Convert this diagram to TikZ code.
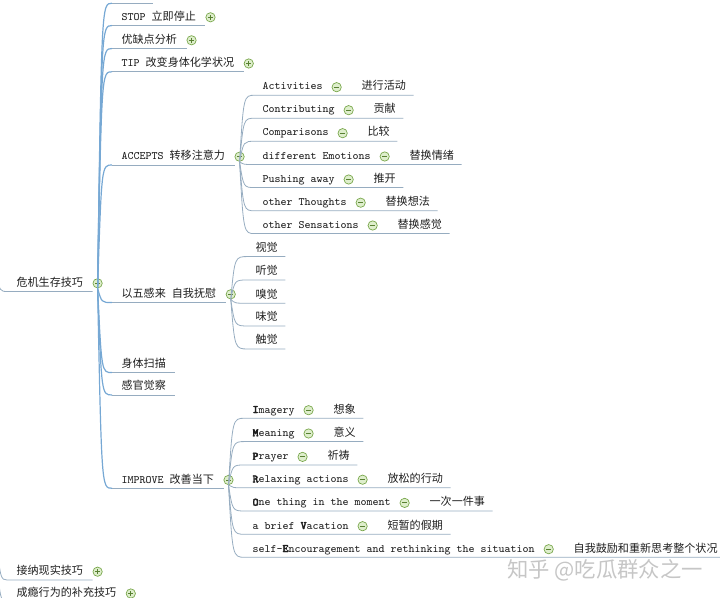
\documentclass[tikz,border=0pt]{standalone}
\usepackage{fontspec}
\newfontfamily\zhfont{Noto Sans CJK SC}
\newfontfamily\ttbold{lmmonolt10-bold.otf}[FakeBold=3]
\usetikzlibrary{positioning}
\usetikzlibrary{calc}
\definecolor{textdark}{RGB}{30,30,30}
\definecolor{linegray}{RGB}{150,172,192}
\definecolor{trunkblue}{RGB}{118,168,212}
\definecolor{iconborder}{RGB}{118,165,72}
\definecolor{iconfill}{RGB}{222,238,204}
\definecolor{iconmark}{RGB}{88,128,50}
\definecolor{markgray}{RGB}{198,198,198}
\newcommand{\zh}[1]{{\zhfont\fontsize{8.3pt}{9pt}\selectfont #1}}
\newcommand{\hl}[1]{{\ttbold #1}}
\newcommand{\mi}{\tikz[baseline=-2.1pt]{\filldraw[draw=iconborder,fill=iconfill,line width=0.5pt] (0,0) circle (3.5pt); \draw[iconmark,line width=0.7pt] (-1.9pt,0) -- (1.9pt,0);}}
\newcommand{\pl}{\tikz[baseline=-2.1pt]{\filldraw[draw=iconborder,fill=iconfill,line width=0.5pt] (0,0) circle (3.5pt); \draw[iconmark,line width=0.7pt] (-1.9pt,0) -- (1.9pt,0) (0,-1.9pt) -- (0,1.9pt);}}
\newcommand{\leaftext}[2]{#1\hspace{6.75pt}\mi\hspace{15pt}\zh{#2}}
\tikzset{
	topic/.style = {
		anchor=west,
		text=textdark,
		font=\ttfamily\fontsize{8.48pt}{10pt}\selectfont,
		text height=6pt,
		text depth=1.5pt,
		inner ysep=2.25pt
	},
	topic_main/.style = {
		topic,
		inner xsep=7pt
	},
	topic_leaf/.style = {
		topic,
		inner xsep=5.5pt
	},
	fold_icon/.style = {
		inner sep=0pt,
		outer sep=0pt
	},
	under_line/.style = {
		draw=linegray,
		line width=0.6pt
	},
	branch_line/.style = {
		under_line,
		to path={.. controls ($(\tikztostart |- \tikztotarget)+(4,0)$) .. (\tikztotarget) \tikztonodes}
	},
	trunk_line/.style = {
		branch_line,
		draw=trunkblue,
		line width=0.9pt
	},
	watermark/.style = {
		text=markgray,
		font=\zhfont\fontsize{16pt}{18pt}\selectfont
	},
}

\begin{document}
\begin{tikzpicture}[x=0.75pt, y=-0.75pt]
\useasboundingbox (0,0) rectangle (720,598);
\clip (0,0) rectangle (720,598);

% left side
\coordinate (skills) at (-8,150);
\node [topic_main] (crisis) at (7,283.3) {\zh{危机生存技巧}};
\node [fold_icon, right=0pt of crisis] (crisis-o) {\mi};
\node [topic_main] (reality) at (7,571.7) {\zh{接纳现实技巧}};
\node [fold_icon, right=0pt of reality] (reality-o) {\pl};
\node [topic_main] (addict) at (7,593.5) {\zh{成瘾行为的补充技巧}};
\node [fold_icon, right=0pt of addict] (addict-o) {\pl};

% first level
\node [topic_main, minimum width=30pt] (prev) at (112,-5) {};
\node [topic_main] (stop) at (112,17.3) {STOP \zh{立即停止}};
\node [fold_icon, right=0pt of stop] (stop-o) {\pl};
\node [topic_main] (pros) at (112,40.3) {\zh{优缺点分析}};
\node [fold_icon, right=0pt of pros] (pros-o) {\pl};
\node [topic_main] (tip) at (112,63.5) {TIP \zh{改变身体化学状况}};
\node [fold_icon, right=0pt of tip] (tip-o) {\pl};
\node [topic_main] (accepts) at (112,156.7) {ACCEPTS \zh{转移注意力}};
\node [fold_icon, right=0pt of accepts] (accepts-o) {\mi};
\node [topic_main] (senses) at (112,294.3) {\zh{以五感来} \zh{自我抚慰}};
\node [fold_icon, right=0pt of senses] (senses-o) {\mi};
\node [topic_main] (scan) at (112,364.3) {\zh{身体扫描}};
\node [topic_main] (aware) at (112,386.7) {\zh{感官觉察}};
\node [topic_main] (improve) at (112,480) {IMPROVE \zh{改善当下}};
\node [fold_icon, right=0pt of improve] (improve-o) {\mi};

% ACCEPTS
\node [topic_leaf] (act) at (255,87) {\leaftext{Activities}{进行活动}};
\node [topic_leaf] (contrib) at (255,110) {\leaftext{Contributing}{贡献}};
\node [topic_leaf] (compar) at (255,133) {\leaftext{Comparisons}{比较}};
\node [topic_leaf] (emot) at (255,156.3) {\leaftext{different Emotions}{替换情绪}};
\node [topic_leaf] (push) at (255,179.3) {\leaftext{Pushing away}{推开}};
\node [topic_leaf] (thought) at (255,202.5) {\leaftext{other Thoughts}{替换想法}};
\node [topic_leaf] (sensation) at (255,225.3) {\leaftext{other Sensations}{替换感觉}};

% five senses
\node [topic_leaf] (sight) at (248,248.3) {\zh{视觉}};
\node [topic_leaf] (hear) at (248,271.7) {\zh{听觉}};
\node [topic_leaf] (smell) at (248,295) {\zh{嗅觉}};
\node [topic_leaf] (taste) at (248,317.7) {\zh{味觉}};
\node [topic_leaf] (touch) at (248,340.7) {\zh{触觉}};

% IMPROVE
\node [topic_leaf] (imag) at (245,410) {\leaftext{\hl{I}magery}{想象}};
\node [topic_leaf] (mean) at (245,433.3) {\leaftext{\hl{M}eaning}{意义}};
\node [topic_leaf] (pray) at (245,456.7) {\leaftext{\hl{P}rayer}{祈祷}};
\node [topic_leaf] (relax) at (245,479.5) {\leaftext{\hl{R}elaxing actions}{放松的行动}};
\node [topic_leaf] (onething) at (245,502.7) {\leaftext{\hl{O}ne thing in the moment}{一次一件事}};
\node [topic_leaf] (vacat) at (245,526) {\leaftext{a brief \hl{V}acation}{短暂的假期}};
\node [topic_leaf] (encour) at (245,549) {\leaftext{self-\hl{E}ncouragement and rethinking the situation}{自我鼓励和重新思考整个状况}};

\node [watermark] (mark) at (605,570) {知乎 @吃瓜群众之一};

% connectors
\foreach \n in {crisis,reality,addict}
	\draw [branch_line] (skills) to (\n.south west) -- (\n.south east);
\foreach \n in {prev,stop,pros,tip,accepts,senses,scan,aware,improve} {
	\draw [trunk_line] (crisis-o.south) to (\n.south west);
	\draw [under_line] (\n.south west) -- (\n.south east);
}
\foreach \n in {act,contrib,compar,emot,push,thought,sensation}
	\draw [branch_line] (accepts-o.south) to (\n.south west) -- (\n.south east);
\foreach \n in {sight,hear,smell,taste,touch}
	\draw [branch_line] (senses-o.south) to (\n.south west) -- (\n.south east);
\foreach \n in {imag,mean,pray,relax,onething,vacat,encour}
	\draw [branch_line] (improve-o.south) to (\n.south west) -- (\n.south east);
\end{tikzpicture}
\end{document}
